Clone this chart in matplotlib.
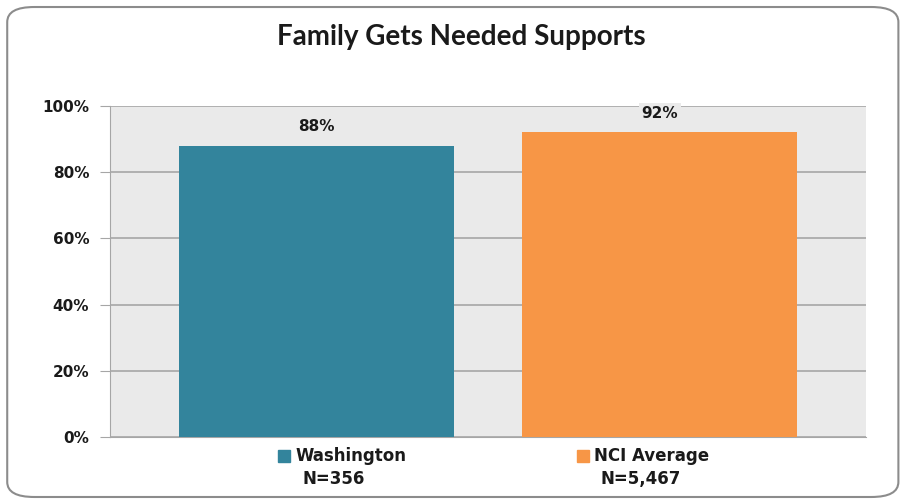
import matplotlib.pyplot as plt
from matplotlib.patches import FancyBboxPatch
from matplotlib.ticker import FuncFormatter

kategori = ['Washington', 'NCI Average']
nilai = [88, 92]
jumlah_n = ['N=356', 'N=5,467']
warna = ['#33849c', '#f79646']

fig = plt.figure(figsize=(9.02, 5.01), dpi=100)

# bingkai luar dengan sudut membulat
bingkai = FancyBboxPatch((0.008, 0.008), 0.988, 0.978, boxstyle='round,pad=0,rounding_size=0.03',
                         transform=fig.transFigure, facecolor='white', edgecolor='#8c8c8c',
                         linewidth=1.5, zorder=-10)
fig.patches.append(bingkai)

ax = fig.add_axes([110 / 902, 1 - 437 / 501, 756 / 902, 331 / 501])
ax.set_zorder(2)
ax.set_facecolor('#eaeaea')

x = list(range(len(kategori)))
bars = ax.bar(x, nilai, width=0.8, color=warna, zorder=3)

ax.set_xlim(-0.6, 1.6)
ax.set_ylim(0, 100)
ax.set_yticks(range(0, 101, 20))
ax.yaxis.set_major_formatter(FuncFormatter(lambda v, p: f'{int(v)}%'))
ax.grid(axis='y', color='#a6a6a6', linewidth=1.2, zorder=1)
ax.set_xticks([])
for s in ['top', 'right']:
    ax.spines[s].set_visible(False)
ax.spines['left'].set_color('#a6a6a6')
ax.spines['bottom'].set_color('#a6a6a6')
ax.tick_params(axis='y', length=7, color='#a6a6a6', pad=8, labelsize=11)
for lbl in ax.get_yticklabels():
    lbl.set_fontweight('bold')
    lbl.set_color('#1a1a1a')

for bar, v in zip(bars, nilai):
    bbox = dict(facecolor='#eaeaea', edgecolor='none', pad=2) if v > 90 else None
    ax.text(bar.get_x() + bar.get_width() / 2, v + 5.8, f'{v}%', ha='center', va='center',
            fontsize=11, fontweight='bold', color='#1a1a1a', bbox=bbox, zorder=4)

# legenda manual di bawah batang (posisi dalam fraksi sumbu)
legend_x = [0.245, 0.640]
for lx, k, n, w in zip(legend_x, kategori, jumlah_n, warna):
    ax.plot([lx - 0.015], [-0.057], marker='s', markersize=8.5, color=w,
            transform=ax.transAxes, clip_on=False, zorder=5)
    ax.text(lx, -0.057, k, ha='left', va='center', fontsize=12, fontweight='bold',
            color='#1a1a1a', transform=ax.transAxes, clip_on=False)
    ax.text(lx + 0.009, -0.128, n, ha='left', va='center', fontsize=12, fontweight='bold',
            color='#1a1a1a', transform=ax.transAxes, clip_on=False)

fig.text(461 / 902, 1 - 37 / 501, 'Family Gets Needed Supports', ha='center', va='center',
         fontsize=20, fontweight='bold', family='Lato', color='#1a1a1a')

plt.savefig('out.png', dpi=100)
